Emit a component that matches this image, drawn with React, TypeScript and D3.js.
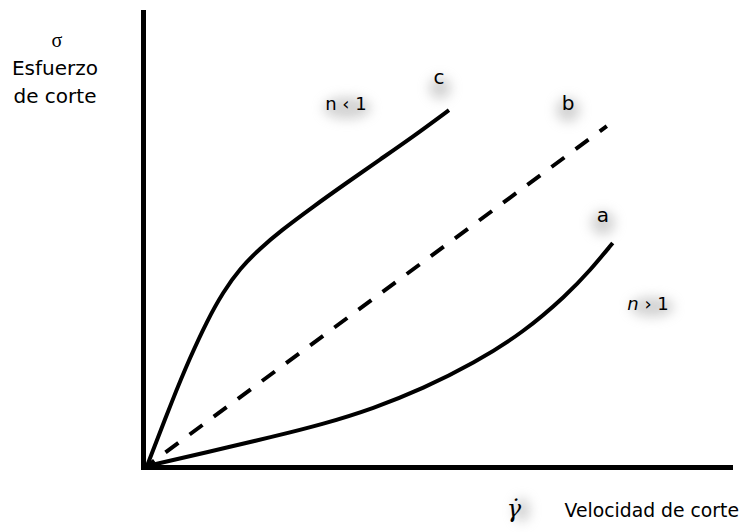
import React from "react";
import * as d3 from "d3";

// Shear rate (γ̇) and shear stress (σ) in arbitrary units
const curveC_x = [0, 4.44, 7.35, 10.26, 12.99, 15.9, 19.32, 22.74, 28.38, 34.19, 39.83, 45.47, 51.62];
const curveC_y = [0, 14.86, 23.82, 31.87, 38.2, 43.43, 47.82, 51.56, 56.99, 62.29, 67.36, 72.37, 78.22];
const curveB_x = [0, 78.6];
const curveB_y = [0, 74.7];
const curveA_x = [0, 10.21, 21.59, 30.14, 38.68, 47.23, 55.78, 64.32, 71.74, 75.73, 79.61];
const curveA_y = [0, 3.01, 6.46, 9.21, 12.62, 17.05, 22.51, 29.32, 37.58, 42.97, 49.01];

const W = 745;
const H = 532;
const FONT = "'Comic Sans MS', 'DejaVu Sans', sans-serif";

export default function App() {
  const x = d3.scaleLinear().domain([0, 100]).range([147, 732]);
  const y = d3.scaleLinear().domain([0, 100]).range([466, 11]);

  const line = d3
    .line<[number, number]>()
    .x((d) => x(d[0]))
    .y((d) => y(d[1]))
    .curve(d3.curveBasis);

  const zip = (a: number[], b: number[]) => a.map((v, i) => [v, b[i]] as [number, number]);

  const glow = (cx: number, cy: number, rx: number, ry: number, key: string) => (
    <ellipse key={key} cx={cx} cy={cy} rx={rx} ry={ry} fill="#a8a8a8" opacity={0.5} filter="url(#soft)" />
  );

  return (
    <svg width={W} height={H} style={{ position: "absolute", left: 0, top: 0, background: "#fff" }}>
      <defs>
        <filter id="soft" x="-80%" y="-80%" width="260%" height="260%">
          <feGaussianBlur stdDeviation="6" />
        </filter>
      </defs>
      <rect width={W} height={H} fill="#fff" />

      {/* soft halos behind the curve annotations */}
      {glow(440, 88, 11, 11, "gc")}
      {glow(347, 108, 24, 11, "gn1")}
      {glow(568, 110, 12, 12, "gb")}
      {glow(603, 223, 12, 12, "ga")}
      {glow(652, 307, 22, 10, "gn2")}
      {glow(522, 510, 8, 12, "gg")}

      {/* axes */}
      <line x1={x(0) - 3.5} x2={x(0) - 3.5} y1={y(100) - 1} y2={y(0) + 4} stroke="#000" strokeWidth={5} />
      <line x1={x(0) - 6} x2={x(100) + 1} y1={y(0) + 1.5} y2={y(0) + 1.5} stroke="#000" strokeWidth={5} />

      {/* flow curves */}
      <path d={line(zip(curveC_x, curveC_y)) ?? ""} fill="none" stroke="#000" strokeWidth={4} />
      <path
        d={line(zip(curveB_x, curveB_y)) ?? ""}
        fill="none"
        stroke="#000"
        strokeWidth={4}
        strokeDasharray="16 14"
        strokeDashoffset={7}
      />
      <path d={line(zip(curveA_x, curveA_y)) ?? ""} fill="none" stroke="#000" strokeWidth={4} />

      {/* curve labels */}
      <g fontFamily={FONT} fill="#000">
        <text x={439} y={84} fontSize={20} textAnchor="middle">c</text>
        <text x={346} y={110} fontSize={18} textAnchor="middle">n ‹ 1</text>
        <text x={568} y={110} fontSize={20} textAnchor="middle">b</text>
        <text x={603} y={222} fontSize={20} textAnchor="middle">a</text>
        <text x={648} y={310} fontSize={18} textAnchor="middle">
          <tspan fontStyle="italic">n</tspan> › 1
        </text>
      </g>

      {/* axis titles */}
      <text x={57} y={47} fontSize={20} textAnchor="middle" fontFamily="'Liberation Serif', serif">σ</text>
      <g fontFamily={FONT} fontSize={20} fill="#000">
        <text x={55} y={75} textAnchor="middle">Esfuerzo</text>
        <text x={55} y={103} textAnchor="middle">de corte</text>
        <text x={739} y={517} fontSize={18.8} textAnchor="end">Velocidad de corte</text>
      </g>
      <text x={514} y={517} fontSize={24} fontStyle="italic" textAnchor="middle" fontFamily="'DejaVu Serif', serif">
        γ̇
      </text>
    </svg>
  );
}
